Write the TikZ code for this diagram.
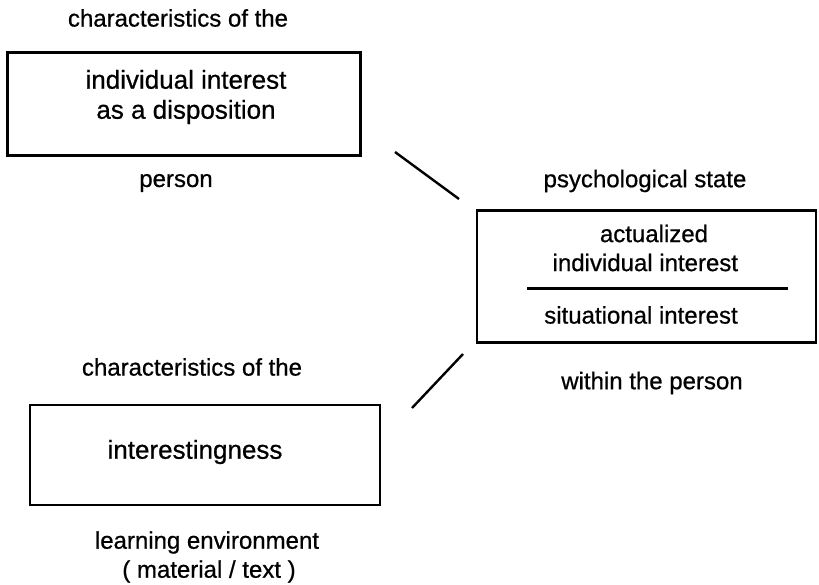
\documentclass[tikz,border=0pt]{standalone}
\usepackage{fontspec}
\setmainfont{Liberation Sans}[RawFeature={embolden=0.7}]
\begin{document}
\begin{tikzpicture}[x=1pt,y=-1pt,
  lbl/.style={inner sep=0pt, font=\fontsize{24}{29}\selectfont, align=center},
  big/.style={inner sep=0pt, font=\fontsize{26}{30}\selectfont, align=center},
  box/.style={draw, line width=2.4pt, rectangle, inner sep=0pt},
  link/.style={line width=2.4pt}]
\useasboundingbox (0,0) rectangle (819,584);
% left top
\node[lbl] (l1) at (178,18) {characteristics of the};
\node[box, minimum width=353pt, minimum height=103pt] (b1) at (184,104) {};
\node[big] (t1) at (186,97) {individual interest\\as a disposition};
\node[lbl] (l2) at (176,183) {person};
% left bottom
\node[lbl] (l3) at (192,367) {characteristics of the};
\node[box, minimum width=350pt, minimum height=100pt] (b2) at (205,455) {};
\node[big] (t2) at (195,452) {interestingness};
\node[lbl] (l4) at (207,557) {learning environment\\\,( material / text )};
% right
\node[lbl] (l5) at (645,181) {psychological state};
\node[box, minimum width=339pt, minimum height=132pt] (b3) at (646.5,276.5) {};
\node[lbl] (t3) at (642,248) {\quad actualized\\ \ individual interest};
\node[lbl] (t4) at (641,315) {situational interest};
\node[lbl] (l6) at (652,383) {within the person};
\coordinate (d1) at (527,288);
\coordinate (d2) at (788,288);
\draw[line width=3pt] (d1) -- (d2);
% connectors
\coordinate (c1a) at (395,152);
\coordinate (c1b) at (459,199);
\coordinate (c2a) at (412,408);
\coordinate (c2b) at (463,354);
\draw[link] (c1a) -- (c1b);
\draw[link] (c2a) -- (c2b);
\end{tikzpicture}
\end{document}
